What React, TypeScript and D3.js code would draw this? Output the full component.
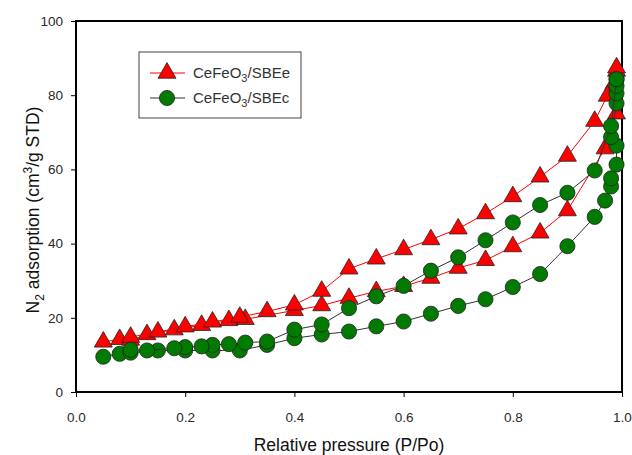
import { useEffect, useRef } from 'react';
import * as d3 from 'd3';

// CeFeO3/SBEe (red triangles)
const sbeeAds: [number, number][] = [
  [0.05, 13.5], [0.08, 14.2], [0.10, 14.0], [0.13, 15.5], [0.18, 16.8], [0.23, 18.0],
  [0.28, 19.3], [0.31, 19.6], [0.40, 22.0], [0.45, 23.3], [0.50, 25.3], [0.55, 27.1],
  [0.60, 28.5], [0.65, 30.7], [0.70, 33.4], [0.75, 35.5], [0.80, 39.2], [0.85, 42.9],
  [0.90, 48.9], [0.969, 65.6], [0.99, 75.0], [0.99, 86.5]
];
const sbeeDes: [number, number][] = [
  [0.99, 87.4], [0.985, 83.0], [0.973, 79.8], [0.95, 73.0], [0.90, 63.6], [0.85, 58.0],
  [0.80, 52.7], [0.75, 48.1], [0.70, 44.0], [0.65, 41.1], [0.60, 38.4], [0.55, 35.9],
  [0.50, 33.2], [0.45, 27.2], [0.40, 23.5], [0.35, 21.7], [0.30, 20.2], [0.25, 18.9],
  [0.20, 17.6], [0.15, 16.2], [0.10, 14.8]
];

// CeFeO3/SBEc (green circles)
const sbecAds: [number, number][] = [
  [0.05, 9.5], [0.08, 10.3], [0.10, 10.6], [0.15, 11.2], [0.20, 11.2], [0.25, 11.2],
  [0.30, 11.2], [0.35, 12.7], [0.40, 14.5], [0.45, 15.5], [0.50, 16.3], [0.55, 17.7],
  [0.60, 19.0], [0.65, 21.1], [0.70, 23.2], [0.75, 25.0], [0.80, 28.3], [0.85, 31.8],
  [0.90, 39.3], [0.95, 47.2], [0.969, 51.6], [0.98, 55.4], [0.98, 57.6], [0.99, 61.3],
  [0.99, 66.4], [0.98, 68.7], [0.99, 77.8], [0.99, 80.5], [0.99, 82.5], [0.99, 84.3]
];
const sbecDes: [number, number][] = [
  [0.99, 84.3], [0.98, 71.7], [0.95, 59.7], [0.90, 53.7], [0.85, 50.4], [0.80, 45.7],
  [0.75, 40.9], [0.70, 36.3], [0.65, 32.7], [0.60, 28.6], [0.55, 25.8], [0.50, 22.6],
  [0.45, 18.2], [0.40, 16.8], [0.35, 13.6], [0.31, 13.3], [0.28, 12.9], [0.25, 12.7],
  [0.23, 12.3], [0.20, 12.1], [0.18, 11.8], [0.13, 11.2], [0.10, 11.4]
];

const xTicks = [0, 0.2, 0.4, 0.6, 0.8, 1.0];
const yTicks = [0, 20, 40, 60, 80, 100];
const legendLabels = ['CeFeO', '/SBEe', '/SBEc'];

const RED = '#ff0000';
const GREEN = '#007a00';
const FONT = '"Liberation Sans", Arial, sans-serif';

const App = () => {
  const ref = useRef<HTMLDivElement>(null);

  useEffect(() => {
    document.body.style.margin = '0';
    d3.select(ref.current).selectAll('*').remove();

    const width = 632;
    const height = 455;
    const margin = { top: 21, right: 10, bottom: 63, left: 76 };
    const w = width - margin.left - margin.right;
    const h = height - margin.top - margin.bottom;

    const svg = d3.select(ref.current)
      .append('svg')
      .attr('width', width)
      .attr('height', height)
      .style('display', 'block')
      .style('font-family', FONT);

    const g = svg.append('g').attr('transform', `translate(${margin.left},${margin.top})`);

    const x = d3.scaleLinear().domain([0, 1]).range([0, w]);
    const y = d3.scaleLinear().domain([0, 100]).range([h, 0]);

    // axes
    const xAxis = g.append('g')
      .attr('transform', `translate(0,${h})`)
      .call(d3.axisBottom(x).tickValues(xTicks).tickSize(5).tickPadding(15).tickFormat(d3.format('.1f')));
    const yAxis = g.append('g')
      .call(d3.axisLeft(y).tickValues(yTicks).tickSize(5).tickPadding(8).tickFormat(d3.format('d')));
    [xAxis, yAxis].forEach(a => {
      a.select('.domain').remove();
      a.selectAll('line').attr('stroke', '#000').attr('stroke-width', 1);
      a.selectAll('text').attr('font-size', 13.5).attr('fill', '#2a2a2a').style('font-family', FONT);
    });

    // frame
    g.append('rect')
      .attr('width', w).attr('height', h)
      .attr('fill', 'none').attr('stroke', '#000').attr('stroke-width', 2);

    const line = d3.line<[number, number]>().x(d => x(d[0])).y(d => y(d[1]));
    const tri = d3.symbol().type(d3.symbolTriangle).size(140);
    const circ = d3.symbol().type(d3.symbolCircle).size(180);

    const drawSeries = (data: [number, number][], lineColor: string, fill: string, sym: any) => {
      g.append('path').datum(data)
        .attr('fill', 'none').attr('stroke', lineColor).attr('stroke-width', 1)
        .attr('d', line);
      g.append('g').selectAll('path').data(data).join('path')
        .attr('transform', d => `translate(${x(d[0])},${y(d[1])})`)
        .attr('d', sym())
        .attr('fill', fill).attr('stroke', '#222').attr('stroke-width', 0.8);
    };

    drawSeries(sbeeAds, RED, RED, tri);
    drawSeries(sbeeDes, RED, RED, tri);
    drawSeries(sbecAds, '#333', GREEN, circ);
    drawSeries(sbecDes, '#333', GREEN, circ);

    // legend
    const lg = svg.append('g').attr('transform', 'translate(139,52)');
    lg.append('rect').attr('width', 162).attr('height', 66)
      .attr('fill', '#fff').attr('stroke', '#444').attr('stroke-width', 1);
    const items = [
      { y: 21, color: RED, fill: RED, sym: tri, label: legendLabels[1] },
      { y: 46, color: '#333', fill: GREEN, sym: circ, label: legendLabels[2] }
    ];
    items.forEach(it => {
      lg.append('line').attr('x1', 11).attr('x2', 46).attr('y1', it.y).attr('y2', it.y)
        .attr('stroke', it.color).attr('stroke-width', 1);
      lg.append('path').attr('transform', `translate(28,${it.y})`).attr('d', it.sym())
        .attr('fill', it.fill).attr('stroke', '#222').attr('stroke-width', 0.8);
      const t = lg.append('text').attr('x', 54).attr('y', it.y + 5)
        .attr('font-size', 15).attr('fill', '#333');
      t.append('tspan').text(legendLabels[0]);
      t.append('tspan').attr('font-size', 11).attr('dy', 4).text('3');
      t.append('tspan').attr('dy', -4).text(it.label);
    });

    // axis titles
    svg.append('text')
      .attr('x', margin.left + w / 2).attr('y', 451)
      .attr('text-anchor', 'middle').attr('font-size', 17.5).attr('fill', '#111')
      .text('Relative pressure (P/Po)');

    const yt = svg.append('text')
      .attr('transform', `translate(39,210) rotate(-90)`)
      .attr('text-anchor', 'middle').attr('font-size', 17.5).attr('fill', '#111');
    yt.append('tspan').text('N');
    yt.append('tspan').attr('font-size', 12).attr('dy', 5).text('2');
    yt.append('tspan').attr('dy', -5).text(' adsorption (cm');
    yt.append('tspan').attr('font-size', 12).attr('dy', -7).text('3');
    yt.append('tspan').attr('dy', 7).text('/g STD)');
  }, []);

  return <div ref={ref}></div>;
};

export default App;
